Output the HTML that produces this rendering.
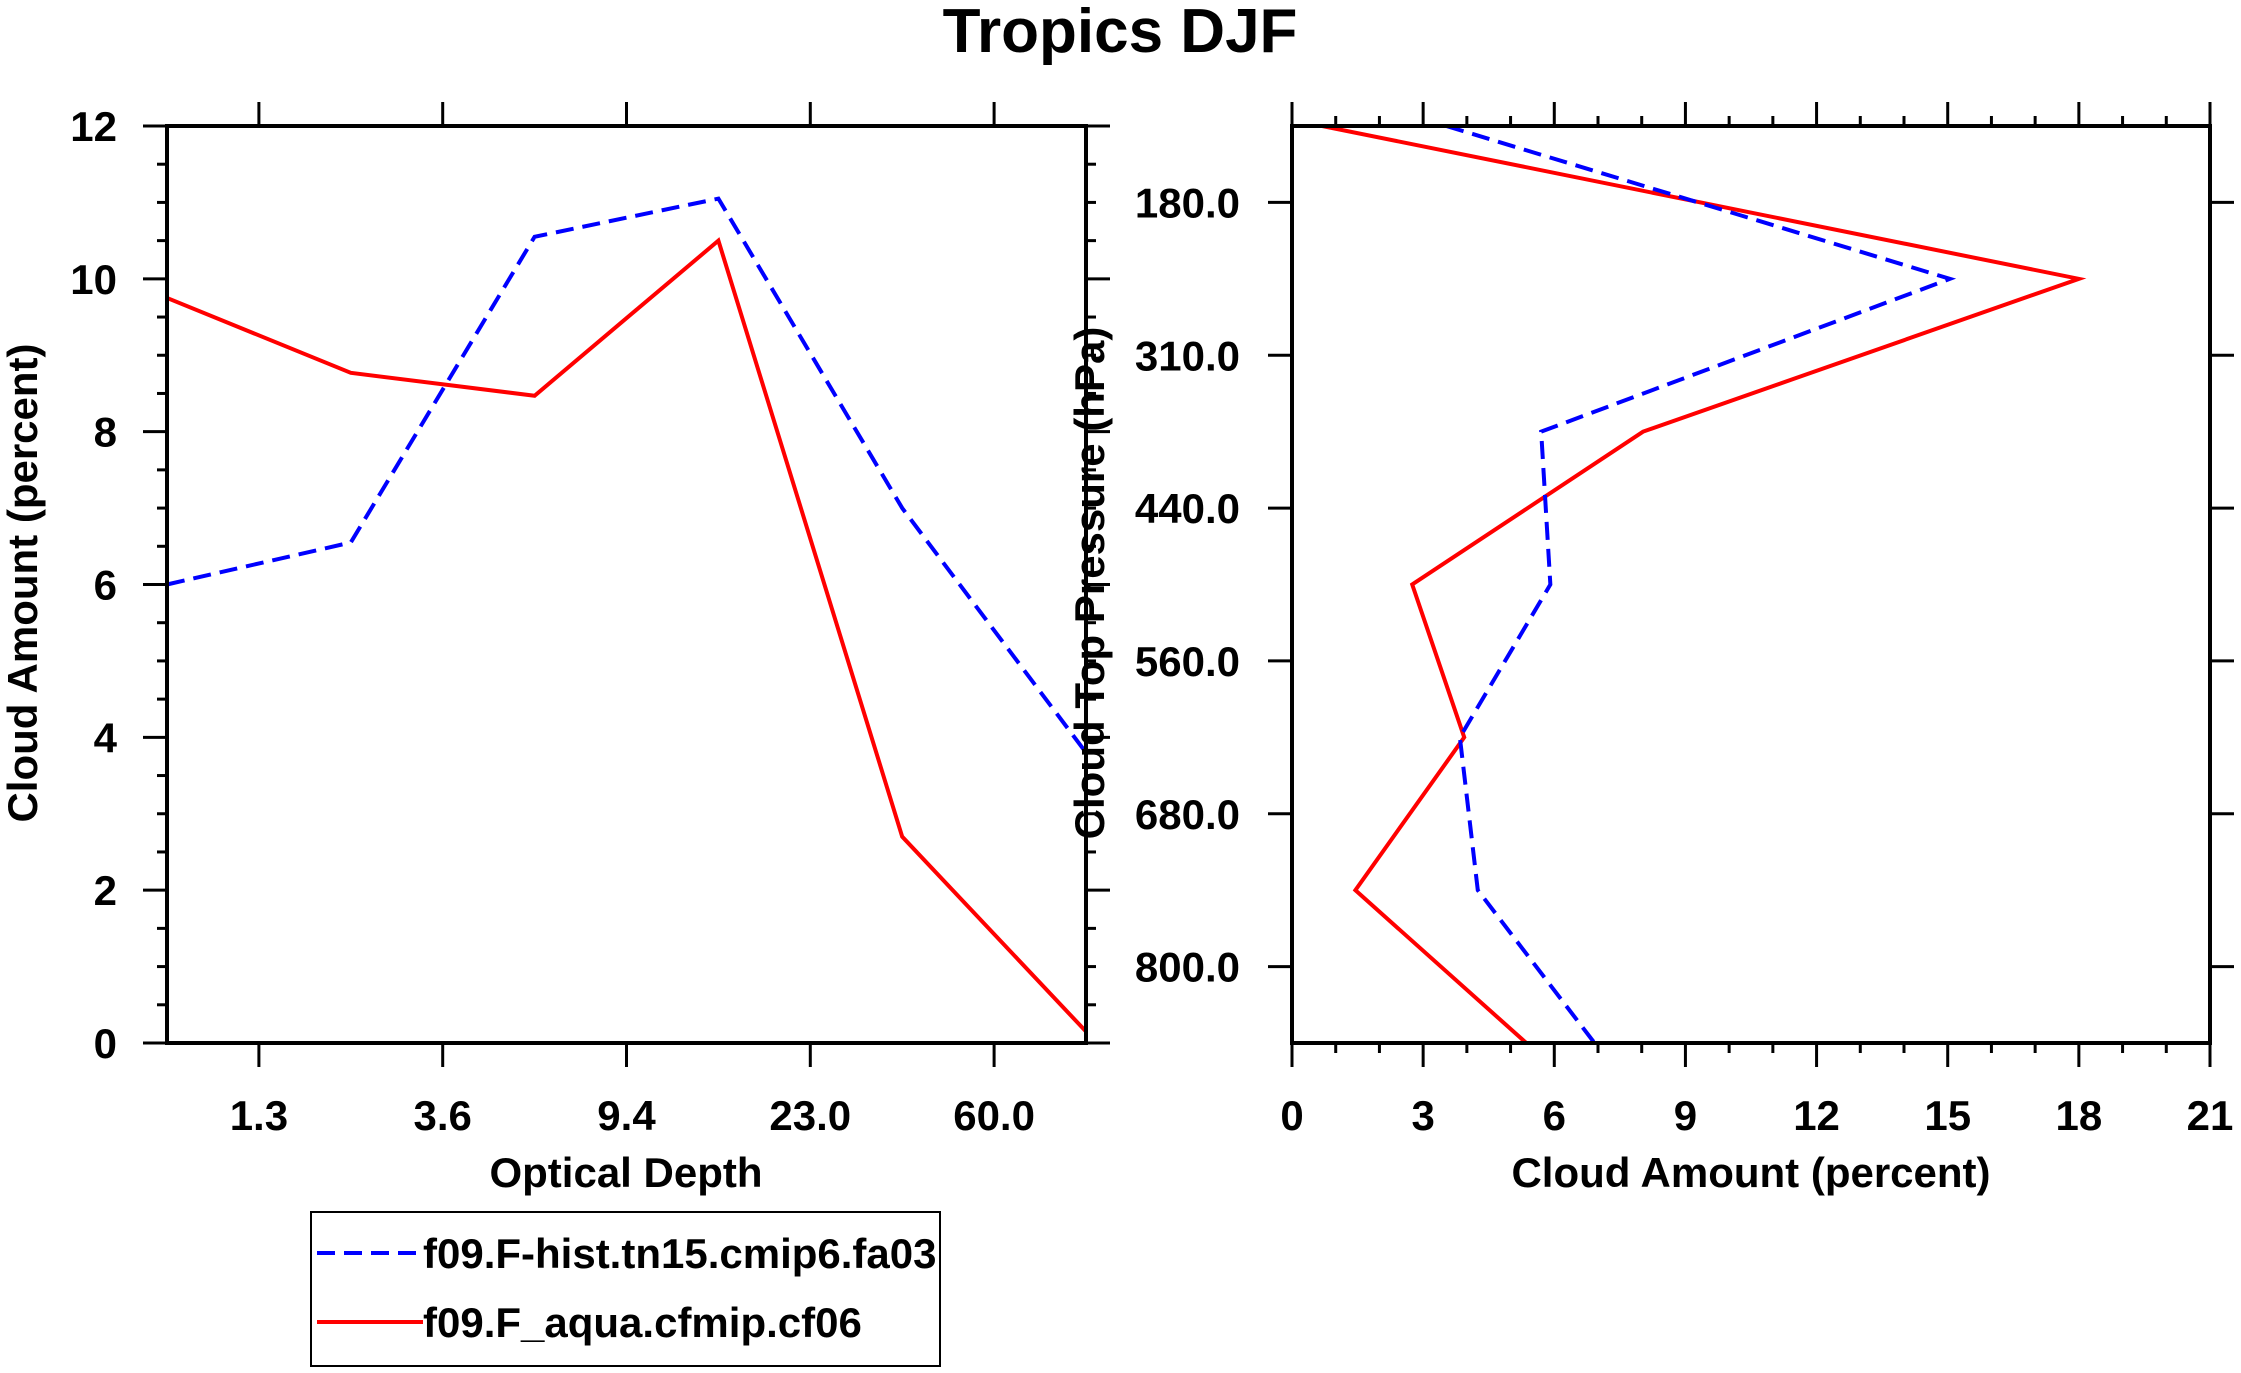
<!DOCTYPE html>
<html><head><meta charset="utf-8"><style>
html,body{margin:0;padding:0;background:#fff;}
svg{display:block;font-family:"Liberation Sans",Arial,sans-serif;font-weight:bold;}
</style></head><body>
<svg id="chart" width="2241" height="1373" viewBox="0 0 2241 1373" xmlns="http://www.w3.org/2000/svg">
<text x="1120" y="52" font-size="62" text-anchor="middle">Tropics DJF</text>
<g id="left"></g>
<g id="right"></g>
<g>
<rect x="311" y="1212" width="629" height="154" fill="none" stroke="#000" stroke-width="2"/>
<line x1="317" y1="1253" x2="423" y2="1253" stroke="#0000ff" stroke-width="4" stroke-dasharray="18,9"/>
<text x="423" y="1268" font-size="42">f09.F-hist.tn15.cmip6.fa03</text>
<line x1="317" y1="1322" x2="423" y2="1322" stroke="#ff0000" stroke-width="4"/>
<text x="423" y="1337" font-size="42">f09.F_aqua.cfmip.cf06</text>
</g>
</svg>
<script>
// Left panel data
const tauLabels = ["1.3","3.6","9.4","23.0","60.0"];
const leftBlue = [6.0, 6.55, 10.55, 11.05, 7.0, 3.8];
const leftRed = [9.75, 8.77, 8.47, 10.5, 2.7, 0.15];
const leftYTicks = [0,2,4,6,8,10,12];
// Right panel data
const presLabels = ["180.0","310.0","440.0","560.0","680.0","800.0"];
const rightBlue = [3.53, 15.05, 5.7, 5.91, 3.84, 4.25, 6.92];
const rightRed = [0.69, 18.0, 8.03, 2.75, 3.94, 1.45, 5.36];
const rightXTicks = [0,3,6,9,12,15,18,21];

const NS="http://www.w3.org/2000/svg";
function mk(parent,tag,attrs,text){const e=document.createElementNS(NS,tag);for(const k in attrs)e.setAttribute(k,attrs[k]);if(text!==undefined)e.textContent=text;parent.appendChild(e);return e;}
const FS=42;

// ----- Left panel -----
const L=document.getElementById('left');
const lx0=167,lx1=1086,ly0=1043,ly1=126;
const lxs=i=>lx0+(lx1-lx0)*i/5;
const lys=v=>ly0+(ly1-ly0)*v/12;
for(let v=0;v<=12;v+=0.5){
  const y=lys(v), major=(v%2===0);
  const t1=mk(L,'line',{x1:lx0-(major?24:10),y1:y,x2:lx0,y2:y,stroke:'#000','stroke-width':3});
  
  
  const t2=mk(L,'line',{x1:lx1,y1:y,x2:lx1+(major?24:10),y2:y,stroke:'#000','stroke-width':3});
  
  
}
leftYTicks.forEach(v=>{
  const t=mk(L,'text',{x:117,y:lys(v)+15,'font-size':FS,'text-anchor':'end'},String(v));
  
  
});
tauLabels.forEach((s,i)=>{
  const x=lxs(i+0.5);
  const a=mk(L,'line',{x1:x,y1:ly0,x2:x,y2:ly0+24,stroke:'#000','stroke-width':3});
  
  
  const b=mk(L,'line',{x1:x,y1:ly1,x2:x,y2:ly1-24,stroke:'#000','stroke-width':3});
  
  
  const t=mk(L,'text',{x:x,y:1130,'font-size':FS,'text-anchor':'middle'},s);
  
  
});
function polyL(arr,color,dash,name){
  const pts=arr.map((v,i)=>lxs(i)+','+lys(v)).join(' ');
  const p=mk(L,'polyline',{points:pts,fill:'none',stroke:color,'stroke-width':4,'stroke-dasharray':dash||'none'});
  
  
}
polyL(leftRed,'#ff0000',null,'left-red-line');
polyL(leftBlue,'#0000ff','18,9','left-blue-line');
const lb=mk(L,'rect',{x:lx0,y:ly1,width:lx1-lx0,height:ly0-ly1,fill:'none',stroke:'#000','stroke-width':4});


const lxt=mk(L,'text',{x:626,y:1187,'font-size':FS,'text-anchor':'middle'},'Optical Depth');


const lyt=mk(L,'text',{x:0,y:0,'font-size':FS,'text-anchor':'middle',transform:'translate(37,583) rotate(-90)'},'Cloud Amount (percent)');



// ----- Right panel -----
const R=document.getElementById('right');
const rx0=1292,rx1=2210,ry0=126,ry1=1043;
const rxs=v=>rx0+(rx1-rx0)*v/21;
const rys=i=>ry0+(ry1-ry0)*i/6;
for(let v=0;v<=21;v++){
  const x=rxs(v), major=(v%3===0);
  const a=mk(R,'line',{x1:x,y1:ry1,x2:x,y2:ry1+(major?24:10),stroke:'#000','stroke-width':3});
  
  
  const b=mk(R,'line',{x1:x,y1:ry0,x2:x,y2:ry0-(major?24:10),stroke:'#000','stroke-width':3});
  
  
}
rightXTicks.forEach(v=>{
  const t=mk(R,'text',{x:rxs(v),y:1130,'font-size':FS,'text-anchor':'middle'},String(v));
  
  
});
presLabels.forEach((s,i)=>{
  const y=rys(i+0.5);
  const a=mk(R,'line',{x1:rx0-24,y1:y,x2:rx0,y2:y,stroke:'#000','stroke-width':3});
  
  
  const b=mk(R,'line',{x1:rx1,y1:y,x2:rx1+24,y2:y,stroke:'#000','stroke-width':3});
  
  
  const t=mk(R,'text',{x:1240,y:y+15,'font-size':FS,'text-anchor':'end'},s);
  
  
});
function polyR(arr,color,dash,name){
  const pts=arr.map((v,i)=>rxs(v)+','+rys(i)).join(' ');
  const p=mk(R,'polyline',{points:pts,fill:'none',stroke:color,'stroke-width':4,'stroke-dasharray':dash||'none'});
  
  
}
polyR(rightRed,'#ff0000',null,'right-red-line');
polyR(rightBlue,'#0000ff','18,9','right-blue-line');
const rb=mk(R,'rect',{x:rx0,y:ry0,width:rx1-rx0,height:ry1-ry0,fill:'none',stroke:'#000','stroke-width':4});


const rxt=mk(R,'text',{x:1751,y:1187,'font-size':FS,'text-anchor':'middle'},'Cloud Amount (percent)');


const ryt=mk(R,'text',{x:0,y:0,'font-size':FS,'text-anchor':'middle',transform:'translate(1104,583) rotate(-90)'},'Cloud Top Pressure (hPa)');


</script>
</body></html>
